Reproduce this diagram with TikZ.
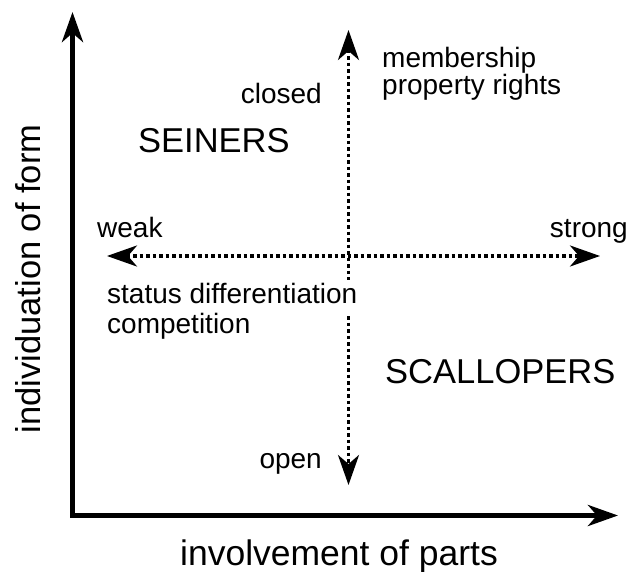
\documentclass[tikz,border=0pt]{standalone}
\usepackage{fontspec}
\setmainfont{Liberation Sans}
\usetikzlibrary{arrows.meta}

\begin{document}
\begin{tikzpicture}
[x=1pt,y=-1pt,>={Stealth[length=30pt,width=21pt,inset=9pt]},
 axis/.style={line width=5pt,<->},
 guide/.style={line width=3.5pt,dash pattern=on 3.5pt off 3pt,<->},
 big/.style={font=\fontsize{34.5}{38}\selectfont,inner sep=0pt},
 small/.style={font=\fontsize{28}{30}\selectfont,inner sep=0pt}]

\useasboundingbox (0,0) rectangle (632,572);

% the coordinates of the axes
\coordinate (O) at (72.5,515.5);
\coordinate (Ytop) at (72.5,12);
\coordinate (Xend) at (618,515.5);

% the ends of the dotted cross
\coordinate (N) at (348.5,30);
\coordinate (S) at (348.5,485);
\coordinate (W) at (107,256);
\coordinate (E) at (600,256);


% the axes
\draw[axis] (Ytop) -- (O) -- (Xend);

% the dotted cross
\draw[guide] (N) -- (S);
\draw[guide] (W) -- (E);


% axis labels
\node[big,font=\fontsize{35.5}{38}\selectfont,anchor=base] (xlabel) at (339,565) {involvement of parts};
\node[big,rotate=90,anchor=base] (ylabel) at (40,279) {individuation of form};

% the two groups
\node[big,anchor=base west] (seiners) at (138,153) {SEINERS};
\node[big,anchor=base west] (scallopers) at (385,383) {SCALLOPERS};

% labelling the ends of the cross
\node[small,anchor=base east] (closed) at (322,104) {closed};
\node[small,anchor=base east] (open) at (322,468) {open};
\node[small,anchor=base west] (weak) at (97,238) {weak};
\node[small,anchor=base east] (strong) at (628,238) {strong};

% the notes
\node[small,anchor=base west] (member) at (382,68) {membership};
\node[small,anchor=base west] (property) at (382,95) {property rights};
\node[small,anchor=base west,fill=white,text height=21pt,text depth=8pt,inner ysep=2pt] (status) at (107,303) {status differentiation};
\node[small,anchor=base west] (compete) at (107,333) {competition};


%
\end{tikzpicture}
\end{document}
